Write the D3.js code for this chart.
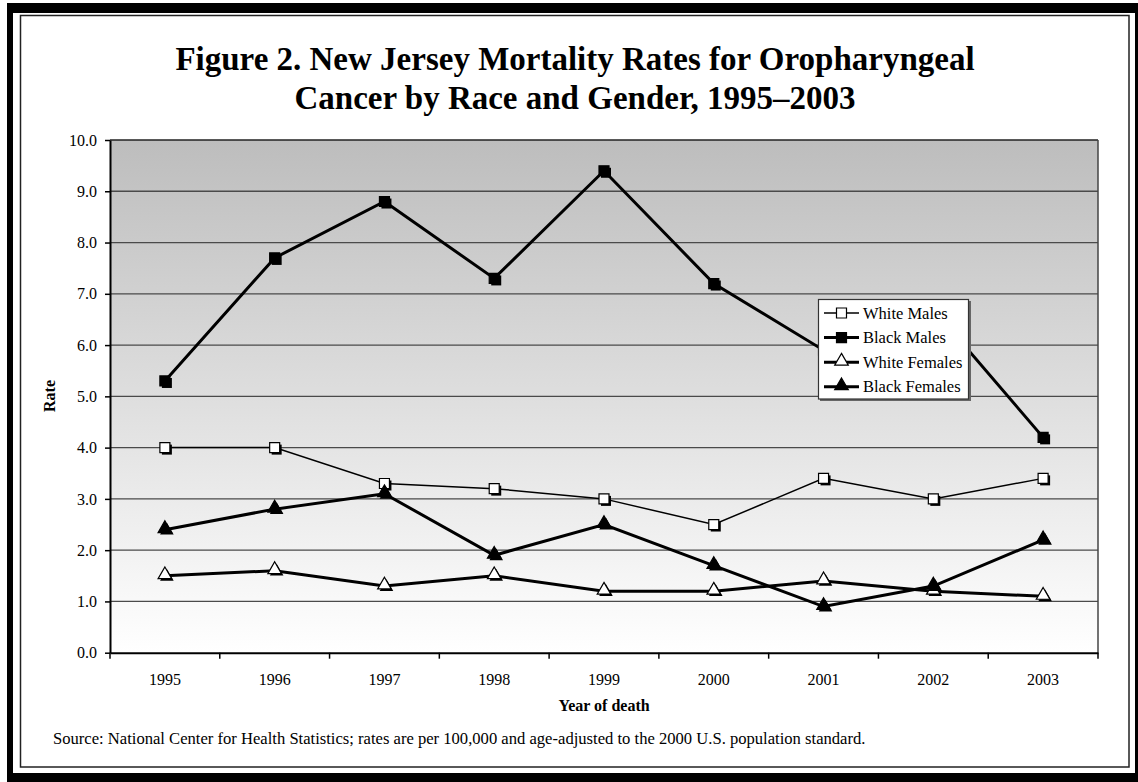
<!DOCTYPE html>
<html><head><meta charset="utf-8">
<script src="https://cdn.jsdelivr.net/npm/d3@7"></script>
<style>body{margin:0;background:#fff}svg{display:block}text{font-family:"Liberation Serif","Times New Roman",serif;fill:#000}</style>
</head><body>
<script>
const years = ["1995","1996","1997","1998","1999","2000","2001","2002","2003"];
const whiteMales   = [4.0, 4.0, 3.3, 3.2, 3.0, 2.5, 3.4, 3.0, 3.4];
const blackMales   = [5.3, 7.7, 8.8, 7.3, 9.4, 7.2, 5.9, 6.7, 4.2];
const whiteFemales = [1.5, 1.6, 1.3, 1.5, 1.2, 1.2, 1.4, 1.2, 1.1];
const blackFemales = [2.4, 2.8, 3.1, 1.9, 2.5, 1.7, 0.9, 1.3, 2.2];
const yTicks = [0,1,2,3,4,5,6,7,8,9,10];
const seriesNames = ["White Males","Black Males","White Females","Black Females"];

(function(){
const W = 1138, H = 782;
const svg = d3.select("body").append("svg").attr("width", W).attr("height", H);

// frame
svg.append("rect").attr("x",7).attr("y",3).attr("width",W).attr("height",H).attr("fill","#000");
svg.append("rect").attr("x",13).attr("y",13).attr("width",1122).attr("height",760).attr("fill","#fff");
svg.append("rect").attr("x",20.5).attr("y",15.5).attr("width",1108.5).attr("height",751.5)
  .attr("fill","none").attr("stroke","#222").attr("stroke-width",1.5);

const pL = 110, pR = 1098, pT = 140, pB = 652.7;
const x = d3.scaleBand().domain(years).range([pL, pR]).padding(0);
const y = d3.scaleLinear().domain([0, 10]).range([pB, pT]);

const defs = svg.append("defs");
const grad = defs.append("linearGradient").attr("id","bg").attr("x1",0).attr("y1",0).attr("x2",0).attr("y2",1);
grad.append("stop").attr("offset","0%").attr("stop-color","#bdbdbd");
grad.append("stop").attr("offset","100%").attr("stop-color","#ffffff");

svg.append("rect").attr("x",pL).attr("y",pT).attr("width",pR-pL).attr("height",pB-pT).attr("fill","url(#bg)");

// gridlines
svg.append("g").selectAll("line").data(yTicks.filter(d=>d>0 && d<10)).join("line")
  .attr("x1",pL).attr("x2",pR).attr("y1",d=>y(d)).attr("y2",d=>y(d))
  .attr("stroke","#4a4a4a").attr("stroke-width",1.3);
svg.append("line").attr("x1",pL).attr("x2",pR).attr("y1",pT).attr("y2",pT).attr("stroke","#222").attr("stroke-width",1.5);
svg.append("line").attr("x1",pR).attr("x2",pR).attr("y1",pT).attr("y2",pB).attr("stroke","#444").attr("stroke-width",1.5);

// y axis
const yAxis = d3.axisLeft(y).tickValues(yTicks).tickFormat(d3.format(".1f")).tickSizeInner(5).tickSizeOuter(0).tickPadding(8);
const gy = svg.append("g").attr("transform",`translate(${pL},0)`).call(yAxis);
gy.select(".domain").attr("stroke","#000").attr("stroke-width",2);
gy.selectAll(".tick line").attr("stroke","#000").attr("stroke-width",1.5);
gy.selectAll("text").attr("font-size",16).attr("font-family","Liberation Serif");

// x axis
const xAxis = d3.axisBottom(x).tickSize(0).tickSizeOuter(0).tickPadding(21);
const gx = svg.append("g").attr("transform",`translate(0,${pB})`).call(xAxis);
gx.select(".domain").attr("stroke","#000").attr("stroke-width",2);
gx.selectAll("text").attr("font-size",16).attr("font-family","Liberation Serif");
svg.append("g").selectAll("line").data(years.concat(["end"])).join("line")
  .attr("x1",(d,i)=>pL + i*x.bandwidth()).attr("x2",(d,i)=>pL + i*x.bandwidth())
  .attr("y1",pB).attr("y2",pB+6).attr("stroke","#000").attr("stroke-width",1.5);

// series
const series = [
  {name:seriesNames[0], values: whiteMales, fill:"#fff", shape:"square", lw:1.5},
  {name:seriesNames[1], values: blackMales, fill:"#000", shape:"square", lw:3},
  {name:seriesNames[2], values: whiteFemales, fill:"#fff", shape:"triangle", lw:3},
  {name:seriesNames[3], values: blackFemales, fill:"#000", shape:"triangle", lw:3}
];
const sq = d3.symbol().type(d3.symbolSquare).size(100);
const tri = d3.symbol().type(d3.symbolTriangle).size(80);
function marker(g, s, cx, cy){
  const p = s.shape==="square" ? sq() : tri();
  const ty = s.shape==="triangle" ? -1 : 0;
  g.append("path").attr("d",p).attr("transform",`translate(${cx+2},${cy+2+ty})`).attr("fill","#000");
  g.append("path").attr("d",p).attr("transform",`translate(${cx},${cy+ty})`)
    .attr("fill",s.fill).attr("stroke","#000").attr("stroke-width",1.2);
}
const line = d3.line().x((d,i)=>x(years[i])+x.bandwidth()/2).y(d=>y(d));
series.forEach(s=>{
  const g = svg.append("g");
  g.append("path").datum(s.values).attr("d",line).attr("fill","none").attr("stroke","#000").attr("stroke-width",s.lw).attr("stroke-linejoin","miter");
  s.values.forEach((v,i)=>marker(g, s, x(years[i])+x.bandwidth()/2, y(v)));
});

// legend
const lg = svg.append("g").attr("transform","translate(818,299)");
lg.append("rect").attr("x",2).attr("y",2).attr("width",151).attr("height",100).attr("fill","#666");
lg.append("rect").attr("x",0.5).attr("y",0.5).attr("width",150).attr("height",99.5).attr("fill","#fff").attr("stroke","#333").attr("stroke-width",1.2);
series.forEach((s,i)=>{
  const cy = 14 + i*24.6;
  lg.append("line").attr("x1",6).attr("x2",41).attr("y1",cy).attr("y2",cy).attr("stroke","#000").attr("stroke-width",s.lw);
  const p = s.shape==="square" ? sq() : tri();
  lg.append("path").attr("d",p).attr("transform",`translate(23.5,${cy + (s.shape==="triangle"?-1:0)})`)
    .attr("fill",s.fill).attr("stroke","#000").attr("stroke-width",1.2);
  lg.append("text").attr("x",45).attr("y",cy+5.5).attr("font-size",16.5).text(s.name);
});

// titles
const t = svg.append("text").attr("text-anchor","middle").attr("font-size",33).attr("font-weight","bold");
t.append("tspan").attr("x",575).attr("y",70).text("Figure 2. New Jersey Mortality Rates for Oropharyngeal");
t.append("tspan").attr("x",575).attr("y",109).text("Cancer by Race and Gender, 1995\u20132003");

svg.append("text").attr("transform","translate(55,396) rotate(-90)").attr("text-anchor","middle")
  .attr("font-size",16).attr("font-weight","bold").text("Rate");
svg.append("text").attr("x",604).attr("y",711).attr("text-anchor","middle")
  .attr("font-size",16).attr("font-weight","bold").text("Year of death");
svg.append("text").attr("x",53).attr("y",744).attr("font-size",16.6)
  .text("Source: National Center for Health Statistics; rates are per 100,000 and age-adjusted to the 2000 U.S. population standard.");
})();
</script>
</body></html>
